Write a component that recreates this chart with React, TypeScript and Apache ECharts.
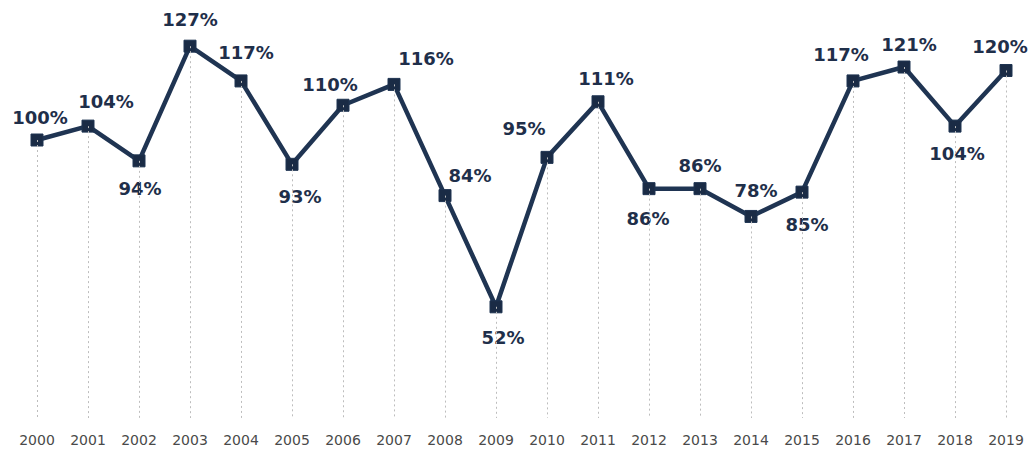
import React, { useEffect, useRef } from "react";
import * as echarts from "echarts";

const years = ["2000","2001","2002","2003","2004","2005","2006","2007","2008","2009","2010","2011","2012","2013","2014","2015","2016","2017","2018","2019"];
const values = [100, 104, 94, 127, 117, 93, 110, 116, 84, 52, 95, 111, 86, 86, 78, 85, 117, 121, 104, 120];
// label placement per point: [position, dx, dy]
const labelPos: [string, number, number][] = [
  ["top", 3, -2], ["top", 18, -4], ["bottom", 1, 3], ["top", 0, -6], ["top", 5, -8],
  ["bottom", 8, 8], ["top", -13, 0], ["top", 32, -5], ["top", 25, 0], ["bottom", 7, 6],
  ["top", -23, -8], ["top", 8, -3], ["bottom", -1, 5], ["top", 0, -3], ["top", 5, -5],
  ["bottom", 5, 8], ["top", -12, -6], ["top", 5, -2], ["bottom", 2, 3], ["top", -6, -4],
];

export default function App() {
  const ref = useRef<HTMLDivElement>(null);
  useEffect(() => {
    const chart = echarts.init(ref.current!, undefined, { renderer: "svg" });
    const navy = "#1f3452";
    chart.setOption({
      animation: false,
      backgroundColor: "#ffffff",
      grid: { left: 11.5, right: 0.5, top: 1, bottom: 33 },
      xAxis: {
        type: "category",
        data: years,
        boundaryGap: true,
        axisLine: { show: false },
        axisTick: { show: false },
        axisLabel: { color: "#4a4a4a", fontSize: 14, fontFamily: "DejaVu Sans", margin: 15 },
      },
      yAxis: {
        type: "value",
        min: 20,
        max: 140,
        show: false,
        splitLine: { show: false },
      },
      series: [
        {
          type: "line",
          data: values.map((v, i) => ({
            value: v,
            label: {
              position: labelPos[i][0],
              offset: [labelPos[i][1], labelPos[i][2]],
              distance: labelPos[i][0] === "bottom" ? 9 : 5,
            },
          })),
          symbol: "rect",
          symbolSize: 12,
          itemStyle: { color: "#1a2b45", borderColor: navy, borderWidth: 1 },
          lineStyle: { color: navy, width: 4.5 },
          label: {
            show: true,
            formatter: "{c}%",
            color: "#1f2f4a",
            fontSize: 18,
            fontWeight: "bold",
            fontFamily: "DejaVu Sans",
          },
          markLine: {
            silent: true,
            symbol: ["none", "none"],
            label: { show: false },
            lineStyle: { color: "#bdbdbd", type: [2, 3], width: 1 },
            data: values.map((v, i) => [
              { coord: [i, v] },
              { coord: [i, 20] },
            ]),
          },
          z: 3,
        },
      ],
    });
    return () => chart.dispose();
  }, []);
  return <div ref={ref} style={{ position: "fixed", left: 0, top: 0, width: 1032, height: 451 }} />;
}
